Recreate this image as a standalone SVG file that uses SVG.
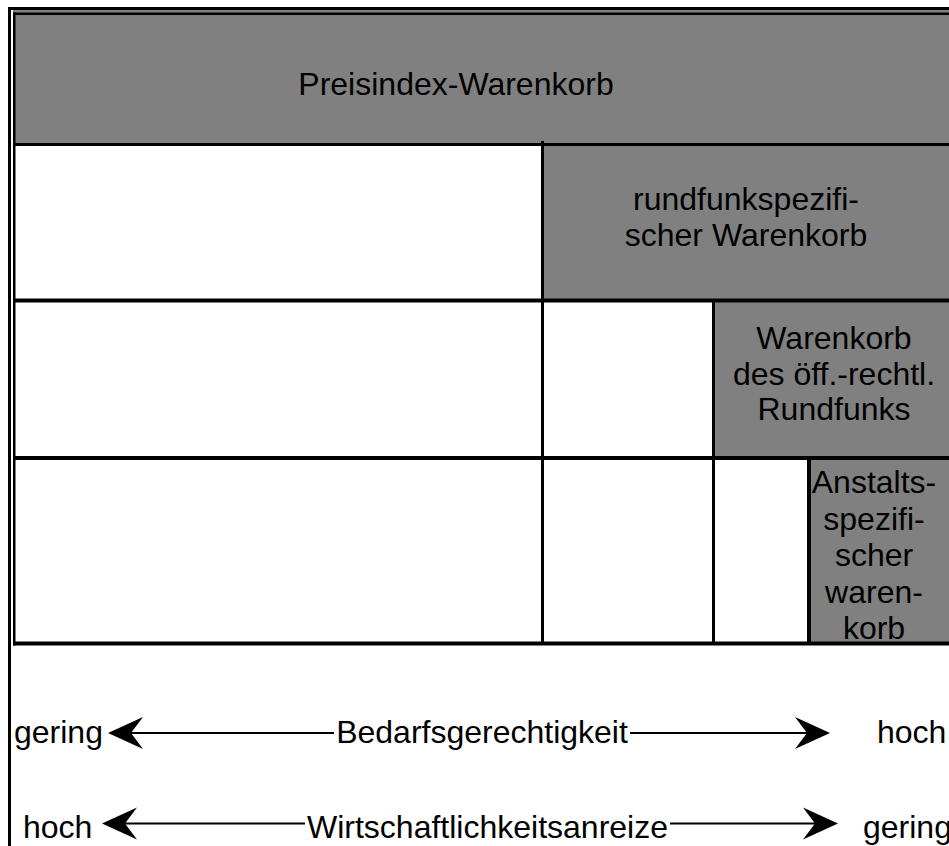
<svg xmlns="http://www.w3.org/2000/svg" width="949" height="846" viewBox="0 0 949 846">
  <style>
    .cell-g { fill: #808080; }
    .cell-w { fill: #ffffff; }
    .rule { fill: #000000; }
    .lbl { font-family: "Liberation Sans", Arial, sans-serif; font-size: 32px; fill: #000000; }
    .mid { text-anchor: middle; }
    .axis { stroke: #000000; stroke-width: 2; fill: none; }
  </style>
  <defs>
    <path id="ah" d="M0,0 L35,-16 L23,0 L35,16 Z" fill="#000000"/>
  </defs>
  <rect x="0" y="0" width="949" height="846" fill="#ffffff"/>

  <g id="frame">
    <rect class="rule" x="8" y="7" width="941" height="3"/>
    <rect class="rule" x="8" y="7" width="3" height="839"/>
  </g>

  <g id="preisindex-warenkorb">
    <rect class="cell-g" x="13" y="10" width="936" height="135"/>
    <rect class="rule" x="13" y="12.5" width="936" height="2.5"/>
    <text class="lbl mid" x="456" y="95">Preisindex-Warenkorb</text>
  </g>

  <g id="row1-blank">
    <rect class="cell-w" x="15" y="146" width="527" height="153"/>
  </g>
  <g id="rundfunkspezifischer-warenkorb">
    <rect class="cell-g" x="543" y="146" width="406" height="153"/>
    <text class="lbl mid" x="746" y="210">rundfunkspezifi-</text>
    <text class="lbl mid" x="746" y="246">scher Warenkorb</text>
  </g>

  <g id="row2-blank">
    <rect class="cell-w" x="15" y="302" width="698" height="155"/>
  </g>
  <g id="warenkorb-oeffentlich-rechtlich">
    <rect class="cell-g" x="714" y="302" width="235" height="155"/>
    <text class="lbl mid" x="834" y="349">Warenkorb</text>
    <text class="lbl mid" x="834" y="384.5">des öff.-rechtl.</text>
    <text class="lbl mid" x="834" y="420">Rundfunks</text>
  </g>

  <g id="row3-blank">
    <rect class="cell-w" x="15" y="460" width="793" height="182"/>
  </g>
  <g id="anstaltsspezifischer-warenkorb">
    <rect class="cell-g" x="810" y="460" width="139" height="182"/>
    <text class="lbl mid" x="874" y="493">Anstalts-</text>
    <text class="lbl mid" x="874" y="529.5">spezifi-</text>
    <text class="lbl mid" x="874" y="566">scher</text>
    <text class="lbl mid" x="874" y="602.5">waren-</text>
    <text class="lbl mid" x="874" y="639">korb</text>
  </g>

  <g id="grid">
    <rect class="rule" x="13" y="12.5" width="2.5" height="633"/>
    <rect class="rule" x="13" y="143" width="936" height="3"/>
    <rect class="rule" x="13" y="298.5" width="936" height="4"/>
    <rect class="rule" x="13" y="456" width="936" height="4"/>
    <rect class="rule" x="13" y="641.5" width="936" height="4"/>
    <rect class="rule" x="541" y="141" width="3" height="504"/>
    <rect class="rule" x="712" y="299" width="3" height="346"/>
    <rect class="rule" x="807" y="457" width="4" height="188"/>
  </g>

  <g id="axis-labels">
    <text class="lbl" x="14" y="743">gering</text>
    <text class="lbl mid" x="482" y="743">Bedarfsgerechtigkeit</text>
    <text class="lbl" x="877" y="743">hoch</text>
    <text class="lbl" x="23" y="838">hoch</text>
    <text class="lbl mid" x="487.5" y="838">Wirtschaftlichkeitsanreize</text>
    <text class="lbl" x="863" y="838">gering</text>
  </g>

  <g id="connectors">
    <line class="axis" x1="125" y1="733" x2="334" y2="733"/>
    <line class="axis" x1="630" y1="733" x2="810" y2="733"/>
    <use href="#ah" transform="translate(108,733)"/>
    <use href="#ah" transform="translate(830,733) scale(-1,1)"/>
    <line class="axis" x1="120" y1="823.5" x2="305" y2="823.5"/>
    <line class="axis" x1="670" y1="823.5" x2="820" y2="823.5"/>
    <use href="#ah" transform="translate(102,823.5)"/>
    <use href="#ah" transform="translate(838,823.5) scale(-1,1)"/>
  </g>
</svg>
